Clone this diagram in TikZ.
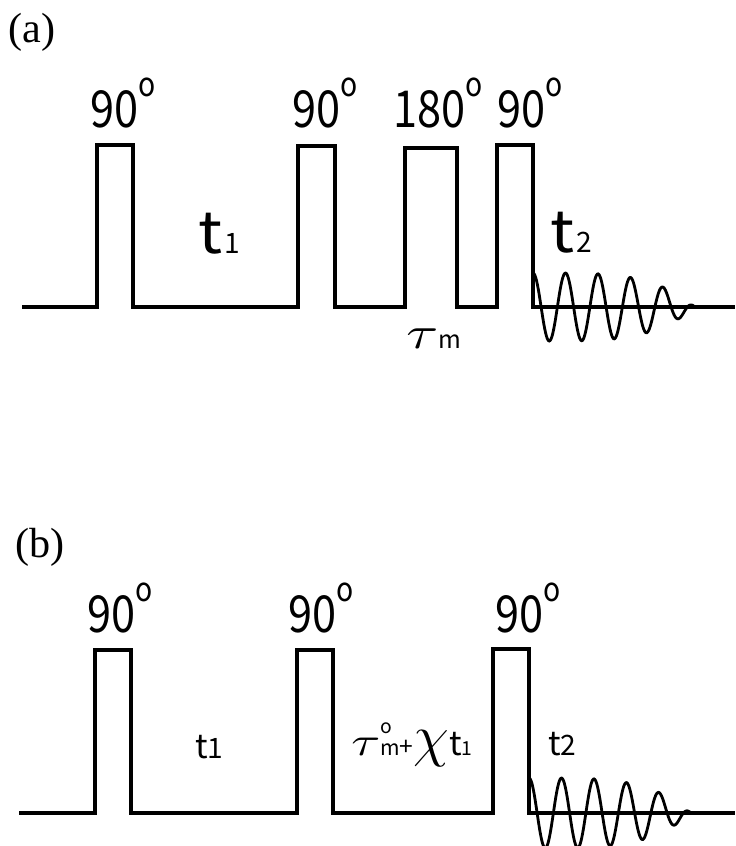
\documentclass[tikz,border=0pt]{standalone}
\usepackage{fontspec}
\newfontfamily\gothic{Noto Sans CJK JP}
\newfontfamily\gothicnar[FakeStretch=0.85]{Noto Sans CJK JP}
\newfontfamily\mincho{Liberation Serif}
\newcommand{\degr}{\raisebox{0.6em}{\fontsize{19}{19}\selectfont o}}
\newcommand{\fs}[1]{\fontsize{#1}{#1}\selectfont}
\tikzset{
  seq/.style={line width=2pt,line join=miter},
  fid/.style={line width=1.6pt},
  ang/.style={font=\gothicnar\fs{29},inner sep=0pt,anchor=base west},
  panel/.style={font=\mincho\fs{24},inner sep=0pt,anchor=base west},
  delay/.style={font=\gothic,inner sep=0pt,anchor=base west}
}
\begin{document}
\begin{tikzpicture}[x={(0.02cm,0cm)},y={(0cm,-0.02cm)}]
\useasboundingbox (0,0) rectangle (735,846);
\clip (0,0) rectangle (735,846);
\node[panel] (la) at (8,42) {(a)};
\draw[seq] (22,307) -| (97,145) -| (133,307) -| (298,146) -| (335,307) -| (405,148) -| (457,307) -| (497,145) -| (533,307) -- (735,307);
\draw[fid] plot[domain=0:162,samples=220,smooth] ({533+\x},{307-34*cos(\x*11.077)*(1-(\x/162)^4)});
\foreach \x/\t/\n in {90/90/pa1,292/90/pa2,393/180/pa3,497/90/pa4} \node[ang] (\n) at (\x,127) {\t\degr};
\node[delay] (ta1) at (198,253) {\scalebox{1.1}[1]{\fs{33}t}\kern1pt\fs{16}1};
\node[delay] (ta2) at (550,252) {\scalebox{1.1}[1]{\fs{33}t}\kern1pt\fs{16}2};
\node[delay] (tma) at (406,348) {\scalebox{3.3}[2.6]{$\tau$}\fs{14}m};
\node[panel] (lb) at (15,557) {(b)};
\draw[seq] (19,813) -| (95,650) -| (131,813) -| (297,650) -| (333,813) -| (493,649) -| (529,813) -- (735,813);
\draw[fid] plot[domain=0:162,samples=220,smooth] ({529+\x},{813-35*cos(\x*11.077)*(1-(\x/162)^4)});
\foreach \x/\n in {87/pb1,288/pb2,495/pb3} \node[ang] (\n) at (\x,632) {90\degr};
\node[delay] (tb1) at (195,758) {\fs{19}t\fs{16}1};
\node[delay] (tb2) at (548,755) {\fs{19}t\fs{16}2};
\node[delay] (tmb) at (351,755) {\scalebox{3.0}[2.3]{$\tau$}\rlap{\raisebox{12pt}{\fs{11}o}}\fs{12}m\fs{14}+\scalebox{2.3}{$\chi$}\fs{19}t\fs{11}1};
\end{tikzpicture}
\end{document}
